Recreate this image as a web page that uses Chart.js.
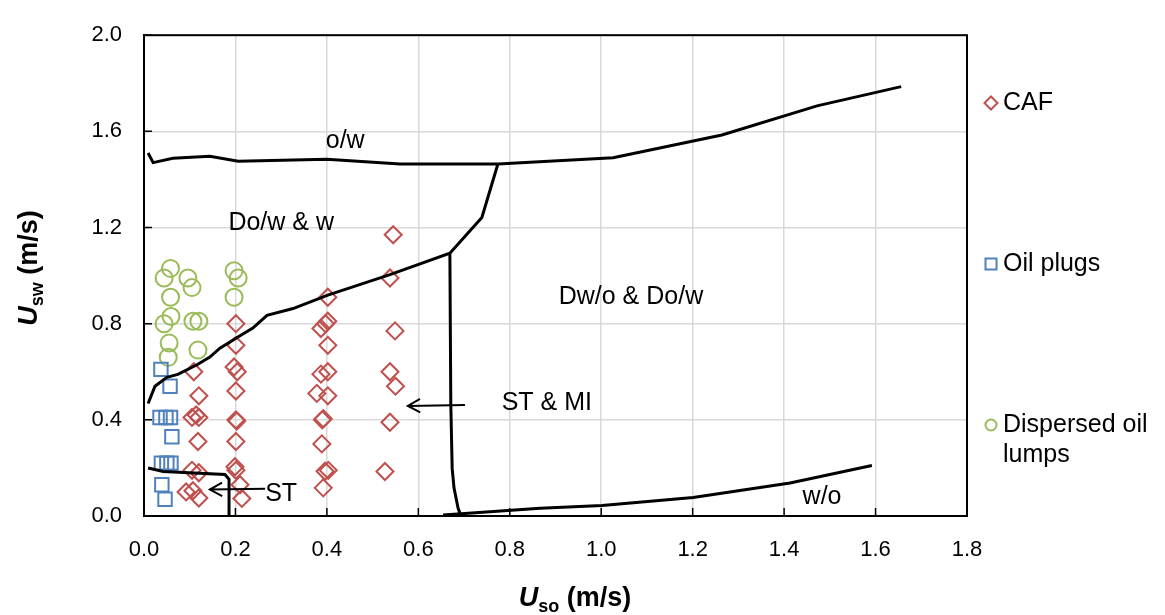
<!DOCTYPE html>
<html>
<head>
<meta charset="utf-8">
<script src="https://cdn.jsdelivr.net/npm/chart.js@4.4.1/dist/chart.umd.min.js"></script>
<style>
  body { margin: 0; background: #fff; }
  #wrap { width: 1165px; height: 615px; position: relative; }
</style>
</head>
<body>
<div id="wrap"><canvas id="mapChart"></canvas></div>
<script>
// flow pattern map data (Uso, Usw in m/s)
const cafPoints = [
  [0.109, 0.60], [0.120, 0.50], [0.105, 0.41], [0.114, 0.42], [0.120, 0.41], [0.118, 0.31],
  [0.105, 0.19], [0.120, 0.18], [0.092, 0.10], [0.107, 0.105], [0.120, 0.075],
  [0.201, 0.80], [0.201, 0.71], [0.197, 0.62], [0.204, 0.60], [0.201, 0.52], [0.201, 0.40],
  [0.203, 0.395], [0.201, 0.31], [0.199, 0.205], [0.201, 0.19], [0.210, 0.13], [0.214, 0.073],
  [0.402, 0.91], [0.402, 0.81], [0.387, 0.78], [0.397, 0.80], [0.402, 0.71], [0.402, 0.60],
  [0.387, 0.59], [0.378, 0.51], [0.402, 0.50], [0.390, 0.40], [0.392, 0.405], [0.389, 0.30],
  [0.396, 0.186], [0.403, 0.19], [0.392, 0.117],
  [0.545, 1.17], [0.538, 0.99], [0.549, 0.77], [0.538, 0.60], [0.550, 0.54], [0.538, 0.39], [0.527, 0.185]
];
const plugPoints = [
  [0.037, 0.61], [0.057, 0.54], [0.035, 0.41], [0.048, 0.41], [0.058, 0.41], [0.061, 0.33],
  [0.038, 0.22], [0.050, 0.22], [0.059, 0.22], [0.039, 0.13], [0.046, 0.07]
];
const lumpPoints = [
  [0.058, 1.03], [0.044, 0.99], [0.096, 0.99], [0.105, 0.95], [0.058, 0.91], [0.197, 1.02],
  [0.206, 0.99], [0.197, 0.91], [0.059, 0.83], [0.044, 0.80], [0.107, 0.81], [0.120, 0.81],
  [0.055, 0.72], [0.118, 0.69], [0.053, 0.66]
];

// transition boundaries
const owLine = [[0.009, 1.51], [0.02, 1.47], [0.063, 1.488], [0.144, 1.496], [0.206, 1.476], [0.40, 1.484],
  [0.56, 1.464], [0.774, 1.464], [1.026, 1.49], [1.264, 1.585], [1.472, 1.706], [1.656, 1.786]];
const dowLine = [[0.009, 0.468], [0.024, 0.54], [0.05, 0.577], [0.074, 0.589], [0.116, 0.629], [0.144, 0.661],
  [0.166, 0.698], [0.21, 0.75], [0.238, 0.782], [0.269, 0.835], [0.326, 0.863], [0.402, 0.919],
  [0.538, 1.004], [0.669, 1.093], [0.739, 1.242], [0.774, 1.464]];
const stmiLine = [[0.669, 1.093], [0.671, 0.468], [0.674, 0.198], [0.678, 0.117], [0.687, 0.032], [0.691, 0.012]];
const woLine = [[0.654, 0.004], [0.866, 0.032], [1.002, 0.044], [1.201, 0.077], [1.413, 0.137], [1.592, 0.21]];
const stLine = [[0.009, 0.2], [0.042, 0.185], [0.177, 0.173], [0.186, 0.153], [0.186, 0.0]];

// region labels and arrows (data units)
const regionLabels = ['o/w', 'Do/w & w', 'Dw/o & Do/w', 'ST & MI', 'ST', 'w/o'];
const regionX = [0.44, 0.30, 1.065, 0.881, 0.30, 1.483];
const regionY = [1.56, 1.22, 0.911, 0.468, 0.093, 0.077];
const arrows = [
  [[0.265, 0.113], [0.144, 0.11]],
  [[0.702, 0.462], [0.577, 0.458]]
];

const xTicks = [0, 0.2, 0.4, 0.6, 0.8, 1.0, 1.2, 1.4, 1.6, 1.8];
const yTicks = [0, 0.4, 0.8, 1.2, 1.6, 2.0];
const legendLabels = [['CAF'], ['Oil plugs'], ['Dispersed oil', 'lumps']];

const RED = '#c0504d', BLUE = '#4f81bd', GREEN = '#9bbb59';
const FONT = "'Liberation Sans', Arial, sans-serif";

const toXY = arr => arr.map(p => ({ x: p[0], y: p[1] }));

function lineSet(pts) {
  return {
    data: toXY(pts), showLine: true, borderColor: '#000', borderWidth: 3,
    pointRadius: 0, fill: false, tension: 0, order: 0
  };
}

function drawRich(ctx, parts, x, y, align) {
  // parts: [text, font, dy]
  let total = 0;
  parts.forEach(p => { ctx.font = p[1]; total += ctx.measureText(p[0]).width; });
  let cx = align === 'center' ? x - total / 2 : x;
  parts.forEach(p => {
    ctx.font = p[1];
    ctx.fillText(p[0], cx, y + p[2]);
    cx += ctx.measureText(p[0]).width;
  });
}

function drawMarker(ctx, style, x, y, color) {
  ctx.save();
  ctx.strokeStyle = color;
  ctx.lineWidth = 2;
  ctx.beginPath();
  if (style === 'rectRot') {
    ctx.moveTo(x, y - 6.5); ctx.lineTo(x + 6.5, y); ctx.lineTo(x, y + 6.5); ctx.lineTo(x - 6.5, y); ctx.closePath();
  } else if (style === 'rect') {
    ctx.rect(x - 5.5, y - 5.5, 11, 11);
  } else {
    ctx.arc(x, y, 5.5, 0, Math.PI * 2);
  }
  ctx.stroke();
  ctx.restore();
}

const decorPlugin = {
  id: 'decor',
  afterDraw(chart) {
    const { ctx, chartArea: a, scales: { x, y } } = chart;
    ctx.save();
    // frame
    ctx.strokeStyle = '#000';
    ctx.lineWidth = 2;
    ctx.strokeRect(a.left, a.top, a.right - a.left, a.bottom - a.top);
    // inner tick marks
    ctx.lineWidth = 1.5;
    ctx.beginPath();
    yTicks.forEach(v => { const py = y.getPixelForValue(v); ctx.moveTo(a.left, py); ctx.lineTo(a.left + 8, py); });
    xTicks.forEach(v => { const px = x.getPixelForValue(v); ctx.moveTo(px, a.bottom); ctx.lineTo(px, a.bottom - 8); });
    ctx.stroke();

    // region labels
    ctx.fillStyle = '#000';
    ctx.font = '25px ' + FONT;
    ctx.textAlign = 'center';
    ctx.textBaseline = 'middle';
    regionLabels.forEach((t, i) => ctx.fillText(t, x.getPixelForValue(regionX[i]), y.getPixelForValue(regionY[i])));

    // arrows
    ctx.lineWidth = 2;
    arrows.forEach(([from, to]) => {
      const x0 = x.getPixelForValue(from[0]), y0 = y.getPixelForValue(from[1]);
      const x1 = x.getPixelForValue(to[0]), y1 = y.getPixelForValue(to[1]);
      const ang = Math.atan2(y1 - y0, x1 - x0);
      ctx.beginPath();
      ctx.moveTo(x0, y0); ctx.lineTo(x1, y1);
      ctx.moveTo(x1 - 14 * Math.cos(ang - 0.5), y1 - 14 * Math.sin(ang - 0.5));
      ctx.lineTo(x1, y1);
      ctx.lineTo(x1 - 14 * Math.cos(ang + 0.5), y1 - 14 * Math.sin(ang + 0.5));
      ctx.stroke();
    });

    // axis titles with subscripts
    ctx.textAlign = 'left';
    ctx.textBaseline = 'alphabetic';
    drawRich(ctx, [
      ['U', "italic bold 27px " + FONT, 0],
      ['so', "bold 18px " + FONT, 6],
      [' (m/s)', "bold 27px " + FONT, 0]
    ], 575, 606, 'center');
    ctx.save();
    ctx.translate(37, 268);
    ctx.rotate(-Math.PI / 2);
    drawRich(ctx, [
      ['U', "italic bold 27px " + FONT, 0],
      ['sw', "bold 18px " + FONT, 6],
      [' (m/s)', "bold 27px " + FONT, 0]
    ], 0, 0, 'center');
    ctx.restore();

    // legend
    const styles = ['rectRot', 'rect', 'circle'];
    const colors = [RED, BLUE, GREEN];
    const legendY = [103, 264, 425];
    ctx.font = '25px ' + FONT;
    ctx.textBaseline = 'middle';
    legendLabels.forEach((lines, i) => {
      drawMarker(ctx, styles[i], 991, legendY[i], colors[i]);
      lines.forEach((t, j) => ctx.fillText(t, 1003, legendY[i] + j * 30));
    });
    ctx.restore();
  }
};

new Chart(document.getElementById('mapChart'), {
  type: 'scatter',
  data: {
    datasets: [
      lineSet(owLine), lineSet(dowLine), lineSet(stmiLine), lineSet(woLine), lineSet(stLine),
      { label: 'CAF', data: toXY(cafPoints), pointStyle: 'rectRot', pointRadius: 8.5,
        borderColor: RED, backgroundColor: 'rgba(0,0,0,0)', borderWidth: 2, order: 1 },
      { label: 'Oil plugs', data: toXY(plugPoints), pointStyle: 'rect', pointRadius: 9.5,
        borderColor: BLUE, backgroundColor: 'rgba(0,0,0,0)', borderWidth: 2, order: 1 },
      { label: 'Dispersed oil lumps', data: toXY(lumpPoints), pointStyle: 'circle', pointRadius: 8.5,
        borderColor: GREEN, backgroundColor: 'rgba(0,0,0,0)', borderWidth: 2, order: 1 }
    ]
  },
  options: {
    responsive: true,
    maintainAspectRatio: false,
    animation: false,
    layout: { padding: { top: 20, right: 198, left: 0, bottom: 0 } },
    plugins: { legend: { display: false }, tooltip: { enabled: false } },
    scales: {
      x: {
        type: 'linear', min: 0, max: 1.8,
        afterFit: s => { s.height = 99; },
        ticks: { stepSize: 0.2, padding: 21, color: '#000', font: { family: FONT, size: 22 },
          callback: v => v.toFixed(1) },
        grid: { color: '#d9d9d9', lineWidth: 1.5, drawTicks: false },
        border: { color: '#000', width: 2 }
      },
      y: {
        min: 0, max: 2.0,
        afterFit: s => { s.width = 144; },
        ticks: { stepSize: 0.4, padding: 22, color: '#000', font: { family: FONT, size: 22 },
          callback: v => v.toFixed(1) },
        grid: { color: '#d9d9d9', lineWidth: 1.5, drawTicks: false },
        border: { color: '#000', width: 2 }
      }
    }
  },
  plugins: [decorPlugin]
});
</script>
</body>
</html>
